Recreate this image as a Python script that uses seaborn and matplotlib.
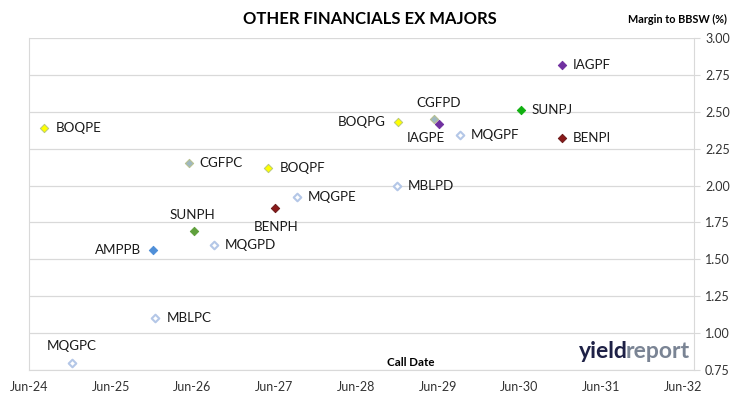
import numpy as np
import pandas as pd
import matplotlib
matplotlib.use("Agg")
import matplotlib.pyplot as plt
import matplotlib.dates as mdates
import seaborn as sns

# datos
codigos = ['BOQPE', 'MQGPC', 'AMPPB', 'MBLPC', 'CGFPC', 'SUNPH', 'MQGPD', 'BOQPF', 'BENPH',
           'MQGPE', 'MBLPD', 'BOQPG', 'CGFPD', 'IAGPE', 'MQGPF', 'SUNPJ', 'IAGPF', 'BENPI']
fechas = ['2024-08-06', '2024-12-08', '2025-12-08', '2025-12-18', '2026-05-15', '2026-06-08',
          '2026-09-04', '2027-05-06', '2027-06-04', '2027-09-12', '2028-12-01', '2028-12-05',
          '2029-05-14', '2029-06-08', '2029-09-07', '2030-06-08', '2030-12-08', '2030-12-08']
margenes = [2.39, 0.80, 1.56, 1.10, 2.15, 1.69, 1.60, 2.12, 1.85,
            1.92, 2.00, 2.43, 2.45, 2.42, 2.34, 2.51, 2.82, 2.32]
emisores = ['BOQ', 'MQG', 'AMP', 'MBL', 'CGF', 'SUN', 'MQG', 'BOQ', 'BEN',
            'MQG', 'MBL', 'BOQ', 'CGF', 'IAG', 'MQG', 'SUN2', 'IAG', 'BEN']
ticks_x = ['2024-06-01', '2025-06-01', '2026-06-01', '2027-06-01', '2028-06-01',
           '2029-06-01', '2030-06-01', '2031-06-01', '2032-06-01']
ticks_y = [0.75, 1.00, 1.25, 1.50, 1.75, 2.00, 2.25, 2.50, 2.75, 3.00]

# colores y estilos por emisor
relleno = {'BOQ': '#ffff00', 'MQG': 'white', 'AMP': '#4f8fd8', 'MBL': 'white', 'CGF': '#9fb8c0',
           'SUN': '#5fa03c', 'SUN2': '#10b010', 'BEN': '#8b1a1a', 'IAG': '#7030a0'}
borde = {'BOQ': '#b8c878', 'MQG': '#b4c7e7', 'AMP': '#4f8fd8', 'MBL': '#b4c7e7', 'CGF': '#b8c08c',
         'SUN': '#5fa03c', 'SUN2': '#10b010', 'BEN': '#6a1a1a', 'IAG': '#7030a0'}
# posicion de cada etiqueta (dx, dy en pixeles, alineacion)
posiciones = {'BOQPE': (12, 0, 'left'), 'MQGPC': (0, 17, 'center'), 'AMPPB': (-12, 0, 'right'),
              'MBLPC': (11, 0, 'left'), 'CGFPC': (11, 0, 'left'), 'SUNPH': (-2, 16, 'center'),
              'MQGPD': (11, 0, 'left'), 'BOQPF': (11, 0, 'left'), 'BENPH': (1, -19, 'center'),
              'MQGPE': (11, 0, 'left'), 'MBLPD': (11, 0, 'left'), 'BOQPG': (-12, 0, 'right'),
              'CGFPD': (5, 16, 'center'), 'IAGPE': (-13, -14, 'center'), 'MQGPF': (11, 0, 'left'),
              'SUNPJ': (11, 0, 'left'), 'IAGPF': (11, 0, 'left'), 'BENPI': (11, 0, 'left')}

sns.set_style("white")
plt.rcParams['font.family'] = ['Lato', 'DejaVu Sans']

df = pd.DataFrame({'Codigo': codigos, 'Fecha': pd.to_datetime(fechas),
                   'Margen': margenes, 'Emisor': emisores})
df['x'] = mdates.date2num(df['Fecha'])

fig = plt.figure(figsize=(7.3, 3.99), dpi=100)
ax = fig.add_axes([29 / 730, 1 - 370 / 399, 665 / 730, 332 / 399])

for emisor, grupo in df.groupby('Emisor'):
    hueco = relleno[emisor] == 'white'
    sns.scatterplot(data=grupo, x='x', y='Margen', ax=ax, marker='D', s=15 if hueco else 18,
                    color=relleno[emisor], edgecolor=borde[emisor],
                    linewidth=1.5 if hueco else 0.7, zorder=3, legend=False)

pt = 72 / 100
for _, fila in df.iterrows():
    dx, dy, ha = posiciones[fila['Codigo']]
    ax.annotate(fila['Codigo'], (fila['x'], fila['Margen']), xytext=(dx * pt, dy * pt),
                textcoords='offset points', ha=ha, va='center', fontsize=9.6, color='#1a1a1a')

ax.set_xlim(mdates.date2num(pd.Timestamp('2024-06-01')), mdates.date2num(pd.Timestamp('2032-07-20')))
ax.set_ylim(0.75, 3.00)
ax.set_xticks(mdates.date2num(pd.to_datetime(ticks_x)))
ax.set_xticklabels([pd.Timestamp(t).strftime('%b-%y') for t in ticks_x])
ax.set_yticks(ticks_y)
ax.set_yticklabels(['%.2f' % v for v in ticks_y])
ax.yaxis.tick_right()
ax.tick_params(axis='y', length=4, width=0.8, color='#d9d9d9', pad=4, labelsize=9, labelcolor='#333333')
ax.tick_params(axis='x', length=0, pad=8, labelsize=9, labelcolor='#333333')
ax.grid(axis='y', color='#d9d9d9', linewidth=0.9)
ax.set_axisbelow(True)
for lado in ['left', 'right', 'bottom']:
    ax.spines[lado].set_visible(True)
    ax.spines[lado].set_color('#d9d9d9')
ax.spines['top'].set_visible(False)
ax.set_xlabel('')
ax.set_ylabel('')

fig.text(370 / 730, 1 - 19 / 399, 'OTHER FINANCIALS EX MAJORS', ha='center', va='center',
         fontsize=12, fontweight='bold', color='black')
fig.text(727 / 730, 1 - 19 / 399, 'Margin to BBSW (%)', ha='right', va='center',
         fontsize=7.8, fontweight='bold', color='black')
fig.text(411 / 730, 1 - 362 / 399, 'Call Date', ha='center', va='center',
         fontsize=8.3, fontweight='bold', color='black')

# logo
fig.text(579 / 730, 1 - 352 / 399, 'yield', ha='left', va='center', fontsize=16.5,
         fontweight='bold', color='#1e2146')
fig.text(626 / 730, 1 - 352 / 399, 'report', ha='left', va='center', fontsize=16.5,
         fontweight='bold', color='#7a8494')

fig.savefig('out.png', dpi=100)
